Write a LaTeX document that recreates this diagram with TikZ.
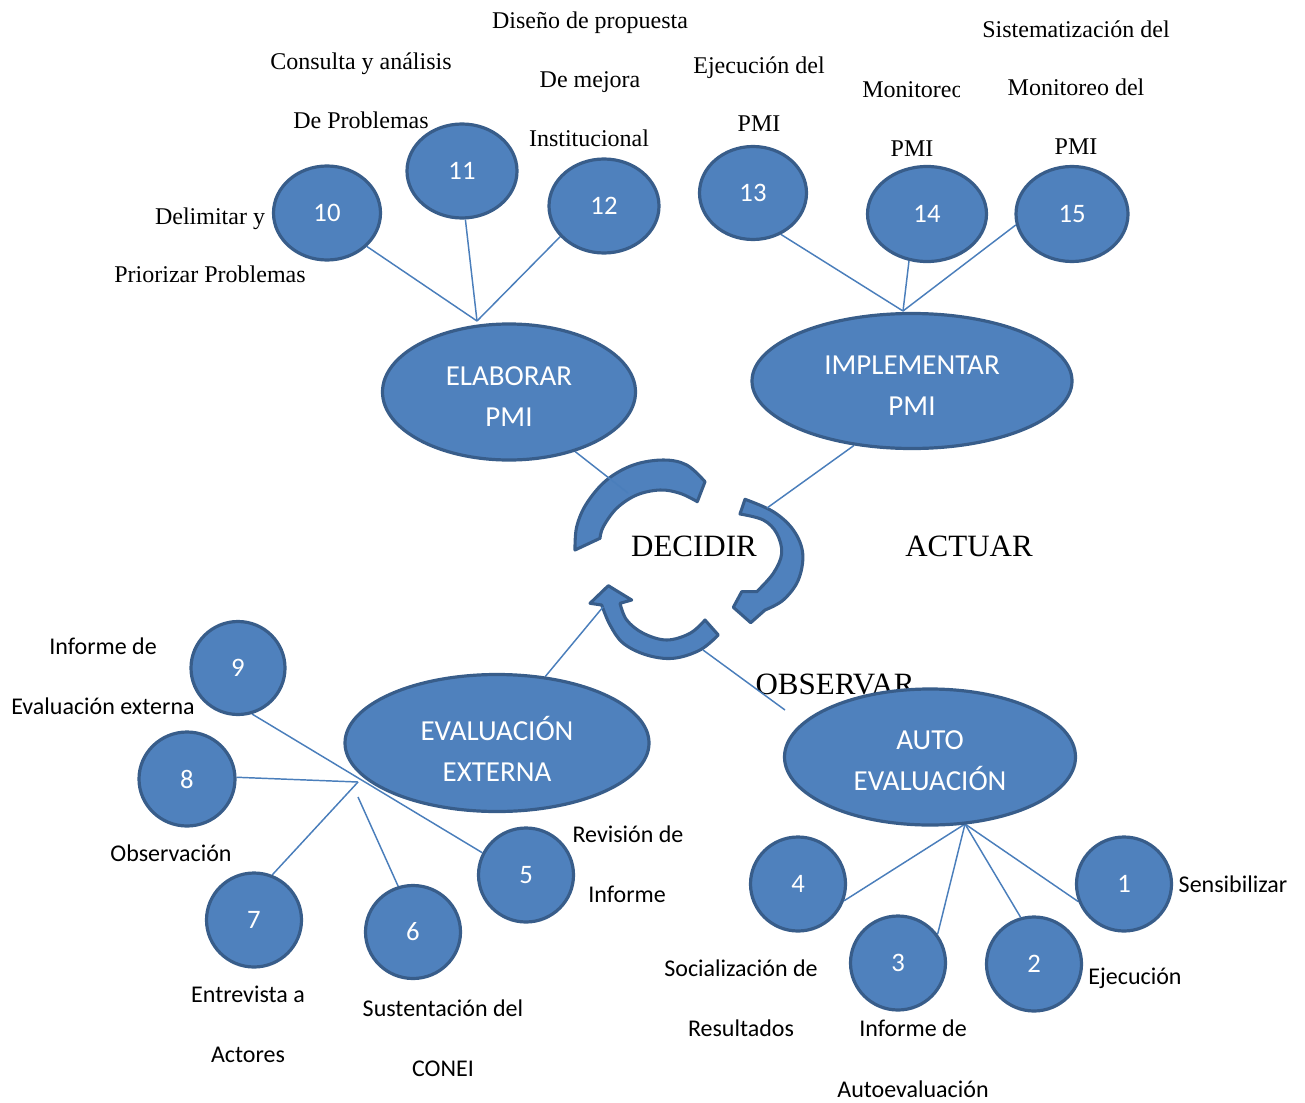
\documentclass[tikz,border=0pt]{standalone}
\usepackage{fontspec}
\setmainfont{Liberation Serif}
\newfontfamily\calfont{Carlito}
\usetikzlibrary{shapes.geometric}
\definecolor{fillb}{HTML}{4F81BD}
\definecolor{edgeb}{HTML}{385D8A}
\definecolor{lineb}{HTML}{4A7EBB}
\pgfdeclarelayer{back}
\pgfdeclarelayer{mid}
\pgfsetlayers{back,mid,main}
\tikzset{
  bub/.style={ellipse, draw=edgeb, fill=fillb, line width=2.4pt, text=white, inner sep=0,
    font=\calfont\fontsize{20}{24}\selectfont},
  big/.style={bub},
  bigtxt/.style={inner sep=0, align=center, text=white, font=\calfont\fontsize{21.75}{30.75}\selectfont},
  conn/.style={draw=lineb, line width=1.1pt},
  lbl/.style={inner sep=0, text height=12.2pt, text depth=0pt, font=\fontsize{18}{18}\selectfont},
  clbl/.style={inner sep=0, font=\calfont\fontsize{18}{18}\selectfont},
  cyc/.style={fill=fillb, draw=edgeb, line width=2.3pt, line join=round},
  bigword/.style={inner sep=0, font=\fontsize{23.25}{24}\selectfont},
}
\begin{document}
\begin{tikzpicture}[x=0.75pt, y=-0.75pt]
\useasboundingbox (0,0) rectangle (1305,1102);

% ---- big ellipses
\node[big, minimum width=189.75pt, minimum height=102pt] (elab) at (509,392) {};
\node[big, minimum width=240pt, minimum height=101.25pt] (impl) at (912,381) {};
\node[big, minimum width=228pt, minimum height=102.75pt] (eval) at (497,743) {};
\node[big, minimum width=218.25pt, minimum height=102pt] (auto) at (930,757) {};
\node[bigtxt] (elabT) at (509,397) {ELABORAR\\PMI};
\node[bigtxt] (implT) at (912,386) {IMPLEMENTAR\\PMI};
\node[bigtxt] (evalT) at (497,749) {EVALUACIÓN\\EXTERNA};
\node[bigtxt] (autoT) at (930,760.5) {AUTO\\EVALUACIÓN};

% ---- small circles
\node[bub, minimum width=80.25pt, minimum height=70.5pt] (c10) at (327,213) {10};
\node[bub, minimum width=82.5pt, minimum height=70.5pt] (c11) at (462,171) {11};
\node[bub, minimum width=82.5pt, minimum height=70.5pt] (c12) at (604,206) {12};
\node[bub, minimum width=80.25pt, minimum height=69.75pt] (c13) at (753,193) {13};
\node[bub, minimum width=89.25pt, minimum height=71.25pt] (c14) at (927,214) {14};
\node[bub, minimum width=84pt, minimum height=71.25pt] (c15) at (1072,214) {15};
\node[bub, minimum width=70.5pt, minimum height=69.75pt] (c9) at (238,668) {9};
\node[bub, minimum width=72pt, minimum height=70.5pt] (c8) at (187,779) {8};
\node[bub, minimum width=71.25pt, minimum height=70.5pt] (c7) at (254,920) {7};
\node[bub, minimum width=71.25pt, minimum height=69.75pt] (c6) at (413,932) {6};
\node[bub, minimum width=71.25pt, minimum height=70.5pt] (c5) at (526,875) {5};
\node[bub, minimum width=71.25pt, minimum height=70.5pt] (c4) at (798,884) {4};
\node[bub, minimum width=71.25pt, minimum height=70.5pt] (c3) at (898,963) {3};
\node[bub, minimum width=71.25pt, minimum height=70.5pt] (c2) at (1034,964) {2};
\node[bub, minimum width=71.25pt, minimum height=70.5pt] (c1) at (1124,884) {1};

% ---- hub and free-end coordinates
\coordinate (hubA) at (477,321);
\coordinate (hubB) at (903,311);
\coordinate (hubE) at (358,782);
\coordinate (hubE6) at (358,797);
\coordinate (hubF) at (965,824);
\coordinate (endA) at (628,493);
\coordinate (endB) at (767,508);
\coordinate (endE) at (603,607);
\coordinate (startF) at (703,650);
\coordinate (endF) at (785,710);

% ---- text labels (Times-like)
\node[lbl] (t1) at (590,20) {Diseño de propuesta};
\node[lbl] (t2) at (590,79) {De mejora};
\node[lbl] (t3) at (589,138) {Institucional};
\node[lbl] (t4) at (361,61) {Consulta y análisis};
\node[lbl] (t5) at (361,120) {De Problemas};
\node[lbl] (t6) at (210,216) {Delimitar y};
\node[lbl] (t7) at (210,274) {Priorizar Problemas};
\node[lbl] (t8) at (759,65) {Ejecución del};
\node[lbl] (t9) at (759,123) {PMI};
\begin{scope}
\clip (840,60) rectangle (959,120);
\node[lbl, anchor=west] (t10) at (862,89) {Monitoreo};
\end{scope}
\node[lbl] (t11) at (912,148) {PMI};
\node[lbl] (t12) at (1076,29) {Sistematización del};
\node[lbl] (t13) at (1076,87) {Monitoreo del};
\node[lbl] (t14) at (1076,146) {PMI};
\node[bigword] (decidir) at (694,546) {DECIDIR};
\node[bigword] (actuar) at (969,546) {ACTUAR};

% ---- text labels (Carlito)
\node[clbl] (u1) at (103,646) {Informe de};
\node[clbl] (u2) at (103,706) {Evaluación externa};
\node[clbl] (u3) at (171,853) {Observación};
\node[clbl] (u4) at (248,994) {Entrevista a};
\node[clbl] (u5) at (248,1055) {Actores};
\node[clbl] (u6) at (443,1008) {Sustentación del};
\node[clbl] (u7) at (443,1069) {CONEI};
\node[clbl] (u8) at (628,834) {Revisión de};
\node[clbl] (u9) at (627,894) {Informe};
\node[clbl] (u10) at (741,968) {Socialización de};
\node[clbl] (u11) at (741,1028) {Resultados};
\node[clbl] (u12) at (913,1028) {Informe de};
\node[clbl] (u13) at (913,1089) {Autoevaluación};
\node[clbl] (u14) at (1135,978) {Ejecución};
\node[clbl] (u15) at (1233,884) {Sensibilizar};

% ---- back layer: cycle arrows and OBSERVAR
\begin{pgfonlayer}{back}
\node[bigword] (observar) at (835,684) {OBSERVAR};
% top-left arc
\path[cyc] (575,550) -- plot[smooth, tension=0.6] coordinates {(575,550) (576.7,526.7) (586.7,503.3) (606.7,480) (633.3,465) (663.3,460) (686.7,465) (705,481.7)}
  -- (697.3,501.7) -- plot[smooth, tension=0.6] coordinates {(697.3,501.7) (680,493.3) (660,490) (636.7,495) (616.7,508.3) (603.3,526.7) (600,538.3)} -- cycle;
% right arc with head
\path[cyc] (745,499.3) -- plot[smooth, tension=0.6] coordinates {(745,499.3) (773.3,511.7) (793.3,530) (802.7,553.3) (798.3,580) (783.3,600) (765,610)}
  -- (750.7,622.7) -- (733.3,607.3) -- (741.7,591.7) -- plot[smooth, tension=0.6] coordinates {(756.7,591.7) (773.3,573.3) (781.7,553.3) (776.7,533.3) (763.3,520) (740,514)} -- cycle;
% bottom arc with head
\path[cyc] (718.3,635) -- plot[smooth, tension=0.6] coordinates {(718.3,635) (700,650) (673.3,658.3) (646.7,655) (623.3,643.3) (610,625) (601.7,605)}
  -- (590,603.3) -- (608.3,585.7) -- (631.7,600) -- plot[smooth, tension=0.6] coordinates {(620,603.3) (626.7,620) (643.3,633.3) (666.7,640) (690,633.3) (705,620)} -- cycle;
\end{pgfonlayer}

% ---- mid layer: connectors
\begin{pgfonlayer}{mid}
\draw[conn] (c10.-40.9) -- (hubA);
\draw[conn] (c11.-86.7) -- (hubA);
\draw[conn] (c12.-145.4) -- (hubA);
\draw[conn] (c13.-56.9) -- (hubB);
\draw[conn] (c14.-111.6) -- (hubB);
\draw[conn] (c15.-169.1) -- (hubB);
\draw[conn] (c9.-73.3) -- (c5.153.4);
\draw[conn] (c8.2.3) -- (hubE);
\draw[conn] (c7.68.4) -- (hubE);
\draw[conn] (c6.108.8) -- (hubE6);
\draw[conn] (c4.-20.2) -- (hubF);
\draw[conn] (c3.36.9) -- (hubF);
\draw[conn] (c2.106.6) -- (hubF);
\draw[conn] (c1.-159) -- (hubF);
\draw[conn] (elab.-42.7) -- (endA);
\draw[conn] (impl.-132.9) -- (endB);
\draw[conn] (eval.54.8) -- (endE);
\draw[conn] (startF) -- (endF);
\end{pgfonlayer}
\end{tikzpicture}
\end{document}
